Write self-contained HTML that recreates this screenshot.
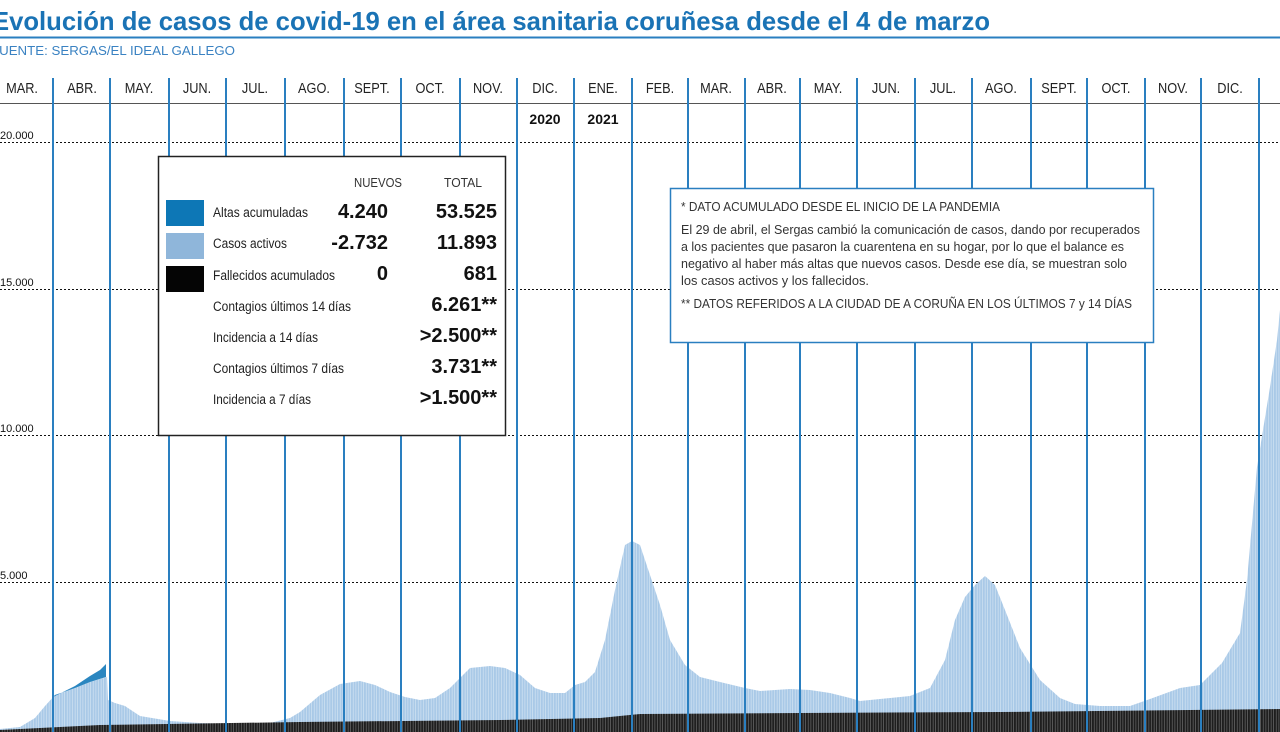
<!DOCTYPE html>
<html><head><meta charset="utf-8"><style>
html,body{margin:0;padding:0;background:#fff;}
svg{display:block;font-family:"Liberation Sans",sans-serif;}
</style></head><body>
<svg width="1280" height="732" viewBox="0 0 1280 732" xmlns="http://www.w3.org/2000/svg">
<defs>
<pattern id="bars" width="2.6" height="10" patternUnits="userSpaceOnUse">
<rect width="2.6" height="10" fill="#a9c9e7"/><rect x="2" width="0.6" height="10" fill="#d8e7f4"/>
</pattern>
<pattern id="blk" width="2.6" height="10" patternUnits="userSpaceOnUse">
<rect width="2.6" height="10" fill="#1e1e1e"/><rect x="2" width="0.6" height="10" fill="#777"/>
</pattern>
</defs>
<text x="-8" y="30" font-weight="bold" font-size="26" fill="#1a73b5" textLength="998" lengthAdjust="spacingAndGlyphs">Evolución de casos de covid-19 en el área sanitaria coruñesa desde el 4 de marzo</text>
<line x1="0" y1="37.5" x2="1280" y2="37.5" stroke="#2a7fc0" stroke-width="2"/>
<text x="-9" y="55" font-size="13" fill="#3a82c2" textLength="244" lengthAdjust="spacingAndGlyphs">FUENTE: SERGAS/EL IDEAL GALLEGO</text>

<line x1="0" y1="103.5" x2="1280" y2="103.5" stroke="#555" stroke-width="1"/>

<g stroke="#111" stroke-width="1" stroke-dasharray="2,2">
<line x1="0" y1="142.5" x2="1280" y2="142.5"/>
<line x1="0" y1="289.5" x2="1280" y2="289.5"/>
<line x1="0" y1="435.5" x2="1280" y2="435.5"/>
<line x1="0" y1="582.5" x2="1280" y2="582.5"/>
</g>
<g font-size="11" fill="#111">
<text x="0" y="139">20.000</text><text x="0" y="286">15.000</text><text x="0" y="432">10.000</text><text x="0" y="579">5.000</text>
</g>

<polygon fill="url(#bars)" points="0,729 20,727 35,718 45,706 55,695 75,688 90,682 107,677 108,700 115,703 125,706 140,716 170,721 200,723 230,724 270,723 290,718 300,712 320,695 340,684 360,681 375,685 390,692 405,697 420,700 435,698 450,688 470,668 490,666 505,668 520,675 535,688 550,693 565,693 575,685 585,682 595,672 605,640 615,590 625,545 632,541 640,545 650,575 660,605 670,640 685,665 700,677 720,682 745,688 760,691 790,689 810,690 830,693 850,698 860,701 880,699 910,696 930,688 945,660 955,620 965,597 975,585 985,576 995,585 1005,610 1020,648 1040,680 1060,698 1075,704 1100,706 1130,706 1150,699 1180,688 1200,685 1222,663 1240,633 1247,580 1257,467 1263,430 1270,387 1277,340 1280,310 1280,732 0,732"/>
<polygon fill="#2a86c0" points="53,697 75,686 90,676 100,670 106,664 106,677 90,682 75,688 55,695"/>
<polygon fill="url(#blk)" points="0,730 100,725 300,722 500,720 600,718 640,714 800,713 1000,712 1280,709 1280,732 0,732"/>

<g stroke="#2a7fc0" stroke-width="2">
<line x1="53" y1="78" x2="53" y2="732"/><line x1="110" y1="78" x2="110" y2="732"/><line x1="169" y1="78" x2="169" y2="732"/><line x1="226" y1="78" x2="226" y2="732"/><line x1="285" y1="78" x2="285" y2="732"/><line x1="344" y1="78" x2="344" y2="732"/><line x1="401" y1="78" x2="401" y2="732"/><line x1="460" y1="78" x2="460" y2="732"/><line x1="517" y1="78" x2="517" y2="732"/><line x1="574" y1="78" x2="574" y2="732"/><line x1="632" y1="78" x2="632" y2="732"/><line x1="688" y1="78" x2="688" y2="732"/><line x1="745" y1="78" x2="745" y2="732"/><line x1="800" y1="78" x2="800" y2="732"/><line x1="857" y1="78" x2="857" y2="732"/><line x1="915" y1="78" x2="915" y2="732"/><line x1="972" y1="78" x2="972" y2="732"/><line x1="1031" y1="78" x2="1031" y2="732"/><line x1="1087" y1="78" x2="1087" y2="732"/><line x1="1145" y1="78" x2="1145" y2="732"/><line x1="1201" y1="78" x2="1201" y2="732"/><line x1="1259" y1="78" x2="1259" y2="732"/>
</g>
<g font-size="15" fill="#222" text-anchor="middle" transform="scale(0.85,1)">
<text x="25.9" y="93">MAR.</text><text x="96.5" y="93">ABR.</text><text x="163.5" y="93">MAY.</text><text x="231.8" y="93">JUN.</text><text x="300" y="93">JUL.</text><text x="369.4" y="93">AGO.</text><text x="437.6" y="93">SEPT.</text><text x="505.9" y="93">OCT.</text><text x="574.1" y="93">NOV.</text><text x="641.2" y="93">DIC.</text><text x="709.4" y="93">ENE.</text><text x="776.5" y="93">FEB.</text><text x="842.4" y="93">MAR.</text><text x="908.2" y="93">ABR.</text><text x="974.1" y="93">MAY.</text><text x="1042.4" y="93">JUN.</text><text x="1109.4" y="93">JUL.</text><text x="1177.6" y="93">AGO.</text><text x="1245.9" y="93">SEPT.</text><text x="1312.9" y="93">OCT.</text><text x="1380" y="93">NOV.</text><text x="1447.1" y="93">DIC.</text>
</g>
<g font-size="14" font-weight="bold" fill="#111" text-anchor="middle">
<text x="545" y="124">2020</text><text x="603" y="124">2021</text>
</g>

<rect x="158.5" y="156.5" width="347" height="279" fill="#fff" stroke="#222" stroke-width="1.5"/>
<g font-size="13" fill="#333">
<text x="354" y="187" textLength="48" lengthAdjust="spacingAndGlyphs">NUEVOS</text><text x="444" y="187" textLength="38" lengthAdjust="spacingAndGlyphs">TOTAL</text>
</g>
<rect x="166" y="200" width="38" height="26" fill="#0d77b6"/>
<rect x="166" y="233" width="38" height="26" fill="#8fb6da"/>
<rect x="166" y="266" width="38" height="26" fill="#050505"/>
<g font-size="13.5" fill="#222">
<text x="213" y="217" textLength="95" lengthAdjust="spacingAndGlyphs">Altas acumuladas</text>
<text x="213" y="248" textLength="74" lengthAdjust="spacingAndGlyphs">Casos activos</text>
<text x="213" y="280" textLength="122" lengthAdjust="spacingAndGlyphs">Fallecidos acumulados</text>
<text x="213" y="311" textLength="138" lengthAdjust="spacingAndGlyphs">Contagios últimos 14 días</text>
<text x="213" y="342" textLength="105" lengthAdjust="spacingAndGlyphs">Incidencia a 14 días</text>
<text x="213" y="373" textLength="131" lengthAdjust="spacingAndGlyphs">Contagios últimos 7 días</text>
<text x="213" y="404" textLength="98" lengthAdjust="spacingAndGlyphs">Incidencia a 7 días</text>
</g>
<g font-size="20" font-weight="bold" fill="#111" text-anchor="end">
<text x="388" y="218">4.240</text><text x="497" y="218">53.525</text>
<text x="388" y="249">-2.732</text><text x="497" y="249">11.893</text>
<text x="388" y="280">0</text><text x="497" y="280">681</text>
<text x="497" y="311">6.261**</text>
<text x="497" y="342">&gt;2.500**</text>
<text x="497" y="373">3.731**</text>
<text x="497" y="404">&gt;1.500**</text>
</g>

<rect x="670.5" y="188.5" width="483" height="154" fill="#fff" stroke="#2a7fc0" stroke-width="1.5"/>
<g font-size="13" fill="#333">
<text x="681" y="211" textLength="319" lengthAdjust="spacingAndGlyphs">* DATO ACUMULADO DESDE EL INICIO DE LA PANDEMIA</text>
<text x="681" y="234" textLength="459" lengthAdjust="spacingAndGlyphs">El 29 de abril, el Sergas cambió la comunicación de casos, dando por recuperados</text>
<text x="681" y="251" textLength="443" lengthAdjust="spacingAndGlyphs">a los pacientes que pasaron la cuarentena en su hogar, por lo que el balance es</text>
<text x="681" y="268" textLength="446" lengthAdjust="spacingAndGlyphs">negativo al haber más altas que nuevos casos. Desde ese día, se muestran solo</text>
<text x="681" y="285" textLength="188" lengthAdjust="spacingAndGlyphs">los casos activos y los fallecidos.</text>
<text x="681" y="308" textLength="451" lengthAdjust="spacingAndGlyphs">** DATOS REFERIDOS A LA CIUDAD DE A CORUÑA EN LOS ÚLTIMOS 7 y 14 DÍAS</text>
</g>
</svg>
</body></html>
